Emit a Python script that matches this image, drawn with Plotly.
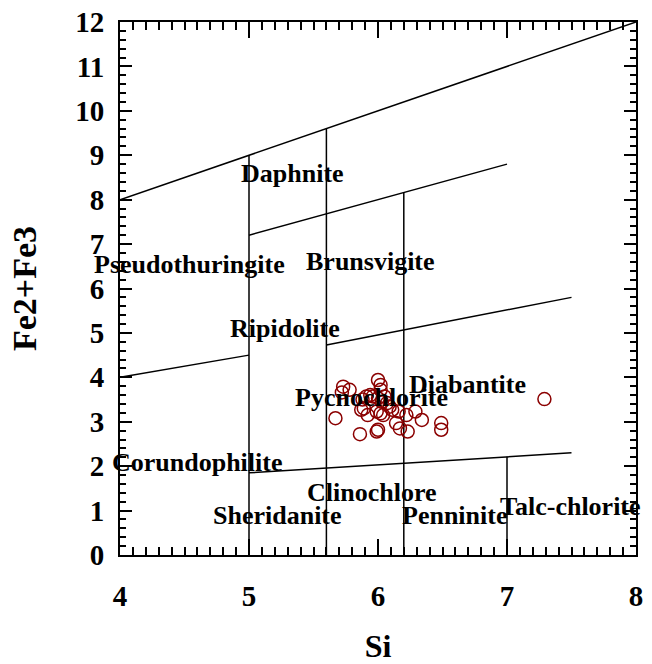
import plotly.graph_objects as go

# Sample data: Si vs Fe2+Fe3
si = [5.67, 5.86, 5.73, 5.72, 5.78, 5.87, 5.89, 5.91, 5.92, 5.94, 5.96, 5.99,
      6.00, 6.00, 6.02, 6.02, 6.03, 6.05, 6.07, 6.04, 6.02, 6.09, 6.11, 6.14,
      6.17, 6.16, 6.22, 6.23, 6.29, 6.34, 6.49, 6.49, 7.29, 5.99, 6.00, 5.88]
fe = [3.08, 2.72, 3.79, 3.66, 3.72, 3.27, 3.30, 3.57, 3.15, 3.60, 3.57, 3.23,
      3.94, 2.82, 3.83, 3.72, 3.45, 3.57, 3.42, 3.15, 3.19, 3.34, 3.27, 2.97,
      2.85, 3.23, 3.15, 2.78, 3.23, 3.04, 2.97, 2.82, 3.51, 2.78, 3.53, 3.50]

# Classification field boundaries (segments)
seg_x = [[4, 8], [5, 5], [5.6, 5.6], [6.2, 6.2], [7, 7], [5, 7], [4, 5], [5.6, 7.5], [5, 7.5]]
seg_y = [[8, 12], [0, 9], [0, 9.6], [0, 8.16], [0, 2.21], [7.2, 8.8], [4, 4.5], [4.73, 5.8], [1.85, 2.3]]

# Field names
field_names = ["Daphnite", "Brunsvigite", "Pseudothuringite", "Ripidolite", "Pycnochlorite",
               "Diabantite", "Corundophilite", "Clinochlore", "Sheridanite", "Penninite",
               "Talc-chlorite"]
field_x = [5.34, 5.94, 4.54, 5.28, 5.95, 6.69, 4.60, 5.95, 5.22, 6.59, 7.49]
field_y = [8.6, 6.6, 6.53, 5.11, 3.54, 3.83, 2.09, 1.40, 0.88, 0.88, 1.10]

x_ticks = [4, 5, 6, 7, 8]
y_ticks = list(range(0, 13))

FONT = "Liberation Serif"

lx, ly = [], []
for xs, ys in zip(seg_x, seg_y):
    lx += xs + [None]
    ly += ys + [None]

fig = go.Figure()
fig.add_trace(go.Scatter(x=lx, y=ly, mode="lines",
                         line=dict(color="black", width=1.5),
                         hoverinfo="skip", showlegend=False))
fig.add_trace(go.Scatter(x=si, y=fe, mode="markers",
                         marker=dict(symbol="circle-open", size=13,
                                     color="#8B0000", line=dict(width=1.5, color="#8B0000")),
                         showlegend=False))

for name, x, y in zip(field_names, field_x, field_y):
    fig.add_annotation(x=x, y=y, text="<b>%s</b>" % name, showarrow=False,
                       font=dict(family=FONT, size=26, color="black"),
                       xanchor="center", yanchor="middle")

axis_common = dict(showgrid=False, zeroline=False, showline=True, linewidth=2,
                   linecolor="black", mirror="ticks", ticks="inside",
                   tickcolor="black", tickwidth=1.5, automargin=False,
                   tickfont=dict(family=FONT, size=29, color="black", weight="bold"))

fig.update_xaxes(range=[4, 8], tickvals=x_ticks, ticklen=16,
                 minor=dict(dtick=0.1, ticks="inside", ticklen=8, tickcolor="black", tickwidth=1.5),
                 title=dict(text="<b>Si</b>", font=dict(family=FONT, size=32, color="black"), standoff=30),
                 ticklabelstandoff=14,
                 **axis_common)
fig.update_yaxes(range=[0, 12], tickvals=y_ticks, ticklen=12,
                 minor=dict(dtick=0.2, ticks="inside", ticklen=6, tickcolor="black", tickwidth=1.5),
                 title=dict(text="<b>Fe2+Fe3</b>", font=dict(family=FONT, size=34, color="black"), standoff=28),
                 ticklabelstandoff=8,
                 **axis_common)

fig.update_layout(width=652, height=664, margin=dict(l=120, r=16, t=22, b=109),
                  plot_bgcolor="white", paper_bgcolor="white", showlegend=False)

fig.write_html("out.html")
